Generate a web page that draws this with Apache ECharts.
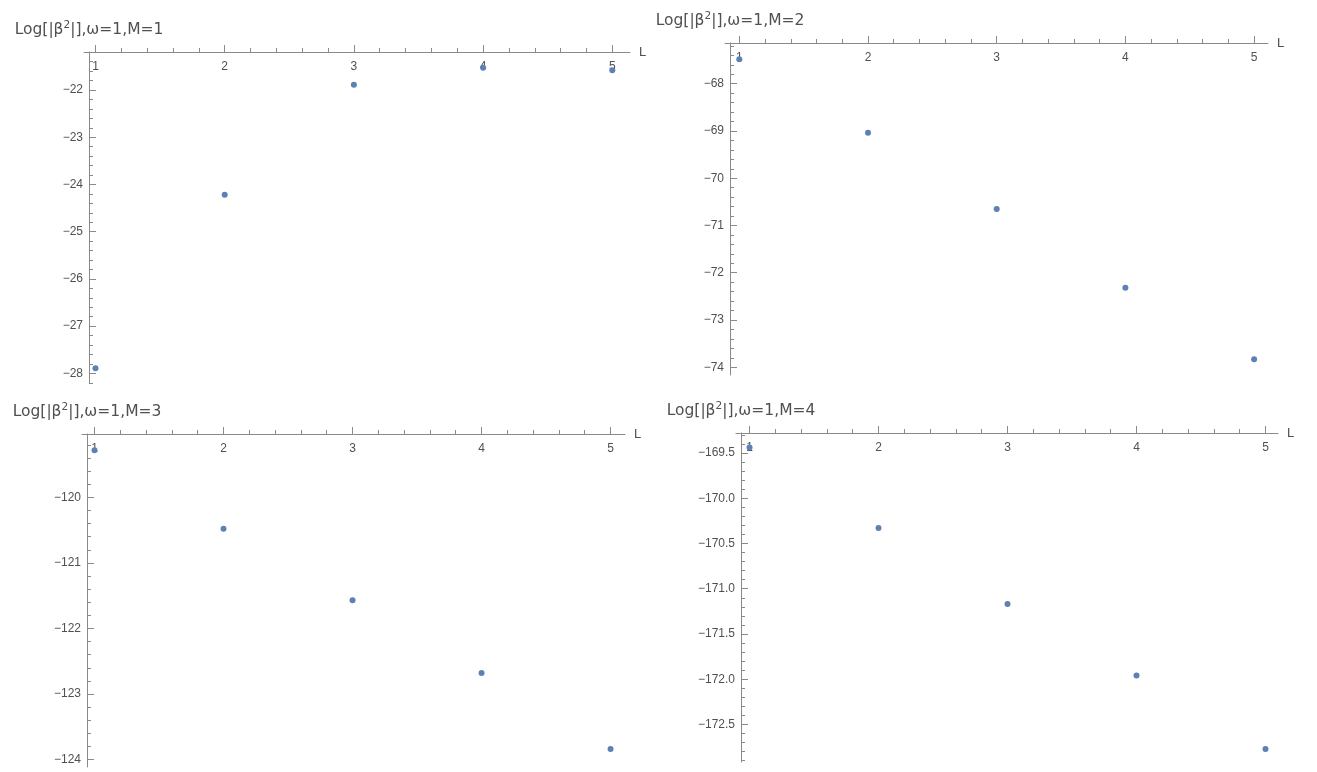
<!DOCTYPE html>
<html>
<head>
<meta charset="utf-8">
<script src="https://cdn.jsdelivr.net/npm/echarts@6/dist/echarts.min.js"></script>
<style>
html,body{margin:0;padding:0;background:#fff;}
#chart{width:1317px;height:772px;}
</style>
</head>
<body>
<div id="chart"></div>
<script>
// ---- data ----
const L = [1, 2, 3, 4, 5];
const logBetaM1 = [-27.89, -24.22, -21.89, -21.53, -21.58];
const logBetaM2 = [-67.48, -69.04, -70.65, -72.32, -73.83];
const logBetaM3 = [-119.28, -120.48, -121.57, -122.68, -123.84];
const logBetaM4 = [-169.44, -170.33, -171.17, -171.96, -172.77];

const xTickLabels = [1, 2, 3, 4, 5];
const yTicksM1 = [-22, -23, -24, -25, -26, -27, -28];
const yTicksM2 = [-68, -69, -70, -71, -72, -73, -74];
const yTicksM3 = [-120, -121, -122, -123, -124];
const yTicksM4 = [-169.5, -170.0, -170.5, -171.0, -171.5, -172.0, -172.5];

const panelTitles = [
  'Log[|β{sup|2}|],ω=1,M=1',
  'Log[|β{sup|2}|],ω=1,M=2',
  'Log[|β{sup|2}|],ω=1,M=3',
  'Log[|β{sup|2}|],ω=1,M=4'
];
const xName = 'L';

// ---- layout / styles ----
const FONT = "'Liberation Sans', Arial, sans-serif";
const TITLE_FONT = "'DejaVu Sans', 'Liberation Sans', sans-serif";
const AXIS_COLOR = '#8a8a8a';
const TEXT_COLOR = '#505050';
const POINT_COLOR = '#5E81B5';
const Y_OFFSET = -5;

const panels = [
  { grid: {left: 84, top: 52, width: 546, height: 331}, xMin: 0.911, xMax: 5.137, yMin: -28.205, yMax: -21.195,
    yTicks: yTicksM1, yMinor: 0.2, digits: 0, values: logBetaM1, title: panelTitles[0] },
  { grid: {left: 725, top: 43, width: 543, height: 332}, xMin: 0.889, xMax: 5.108, yMin: -74.165, yMax: -67.138,
    yTicks: yTicksM2, yMinor: 0.2, digits: 0, values: logBetaM2, title: panelTitles[1] },
  { grid: {left: 82, top: 434, width: 543, height: 333}, xMin: 0.903, xMax: 5.112, yMin: -124.113, yMax: -119.034,
    yTicks: yTicksM3, yMinor: 0.2, digits: 0, values: logBetaM3, title: panelTitles[2] },
  { grid: {left: 736, top: 433, width: 542, height: 329}, xMin: 0.895, xMax: 5.097, yMin: -172.915, yMax: -169.279,
    yTicks: yTicksM4, yMinor: 0.1, digits: 1, values: logBetaM4, title: panelTitles[3] }
];

function minorTicks(min, max, step, majors) {
  const out = [];
  const start = Math.ceil(min / step - 1e-9);
  const end = Math.floor(max / step + 1e-9);
  for (let i = start; i <= end; i++) {
    const v = Math.round(i * step * 1000) / 1000;
    if (!majors.some(m => Math.abs(m - v) < 1e-6)) out.push(v);
  }
  return out;
}

function fmt(v, d) {
  return (v < 0 ? '\u2212' : '') + Math.abs(v).toFixed(d);
}

const grids = [], xAxes = [], yAxes = [], series = [];
panels.forEach((p, k) => {
  grids.push(Object.assign({containLabel: false, outerBoundsMode: 'none'}, p.grid));
  const xMinorMin = Math.max(p.xMin, 1);
  // major x axis
  xAxes.push({
    type: 'value', gridIndex: k, position: 'top', min: p.xMin, max: p.xMax,
    name: xName, nameLocation: 'end', nameGap: 9,
    nameTextStyle: {color: TEXT_COLOR, fontFamily: FONT, fontSize: 13, verticalAlign: 'middle'},
    axisLine: {show: true, onZero: false, lineStyle: {color: AXIS_COLOR, width: 1}},
    axisTick: {show: true, inside: false, length: 7, customValues: xTickLabels, lineStyle: {color: AXIS_COLOR}},
    axisLabel: {show: true, inside: true, margin: 9, customValues: xTickLabels, color: TEXT_COLOR,
      fontFamily: FONT, fontSize: 12, formatter: v => String(v)},
    splitLine: {show: false}
  });
  // minor x axis
  xAxes.push({
    type: 'value', gridIndex: k, position: 'top', min: p.xMin, max: p.xMax,
    axisLine: {show: false, onZero: false},
    axisTick: {show: true, inside: false, length: 4,
      customValues: minorTicks(xMinorMin, p.xMax, 0.2, xTickLabels), lineStyle: {color: AXIS_COLOR}},
    axisLabel: {show: false}, splitLine: {show: false}
  });
  // major y axis
  yAxes.push({
    type: 'value', gridIndex: k, position: 'left', offset: Y_OFFSET, min: p.yMin, max: p.yMax,
    name: p.title, nameLocation: 'end', nameGap: 13,
    nameTextStyle: {color: TEXT_COLOR, fontFamily: TITLE_FONT, fontSize: 15.5, align: 'center',
      rich: {sup: {fontSize: 10.5, fontFamily: TITLE_FONT, color: TEXT_COLOR, padding: [0, 0, 8, 0]}}},
    axisLine: {show: true, onZero: false, lineStyle: {color: AXIS_COLOR, width: 1}},
    axisTick: {show: true, inside: true, length: 7, customValues: p.yTicks, lineStyle: {color: AXIS_COLOR}},
    axisLabel: {show: true, margin: 6, customValues: p.yTicks, color: TEXT_COLOR,
      fontFamily: FONT, fontSize: 12, formatter: v => fmt(v, p.digits)},
    splitLine: {show: false}
  });
  // minor y axis
  yAxes.push({
    type: 'value', gridIndex: k, position: 'left', offset: Y_OFFSET, min: p.yMin, max: p.yMax,
    axisLine: {show: false, onZero: false},
    axisTick: {show: true, inside: true, length: 4,
      customValues: minorTicks(p.yMin, p.yMax, p.yMinor, p.yTicks), lineStyle: {color: AXIS_COLOR}},
    axisLabel: {show: false}, splitLine: {show: false}
  });
  series.push({
    type: 'scatter', xAxisIndex: 2 * k, yAxisIndex: 2 * k,
    symbol: 'circle', symbolSize: 6,
    itemStyle: {color: POINT_COLOR, opacity: 1},
    data: L.map((x, i) => [x, p.values[i]]),
    z: 5
  });
});

const chart = echarts.init(document.getElementById('chart'), null, {renderer: 'canvas'});
chart.setOption({
  animation: false,
  backgroundColor: '#ffffff',
  grid: grids,
  xAxis: xAxes,
  yAxis: yAxes,
  series: series
});
</script>
</body>
</html>
